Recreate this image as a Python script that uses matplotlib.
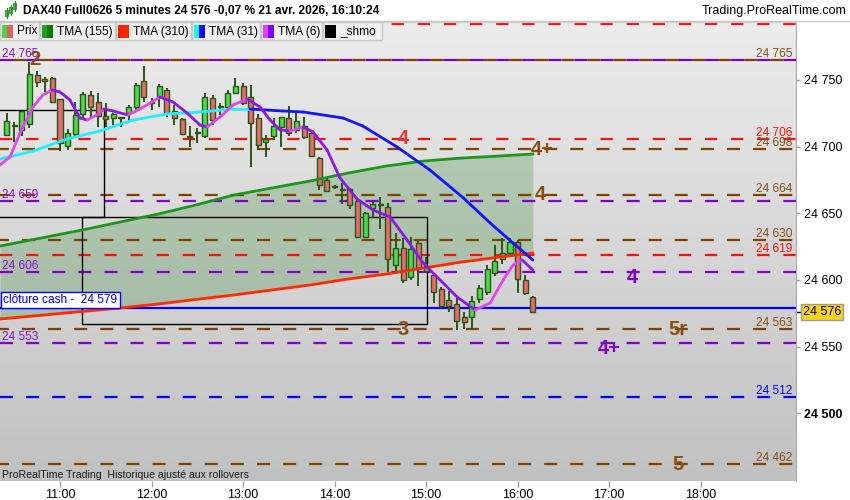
import numpy as np
import matplotlib
matplotlib.use("Agg")
import matplotlib.pyplot as plt
from matplotlib.collections import LineCollection
from matplotlib.patches import Rectangle
from matplotlib.colors import LinearSegmentedColormap
import matplotlib.transforms as mtransforms

plt.rcParams['font.family'] = ['Liberation Sans', 'DejaVu Sans']
plt.rcParams['lines.scale_dashes'] = False

# ---------------- data ----------------
# 5-minute candles from 10:25 to 16:10 (index 0 = 10:25)
opens = [24708.75, 24715.5, 24712.5, 24717, 24753.75, 24750.75, 24751.5, 24735.75, 24700.5, 24709.5,
         24724.5, 24738.75, 24733.5, 24723, 24721.5, 24721.5, 24725.25, 24729.75, 24749.25, 24733,
         24737.25, 24742.5, 24726.75, 24720.75, 24708, 24710, 24708, 24736.5, 24730.5, 24729.75,
         24740.25, 24745.5, 24737.25, 24721.5, 24703.5, 24708, 24714.75, 24721.5, 24712.5, 24715.5,
         24710.25, 24691.5, 24675, 24669.75, 24667.5, 24668.25, 24659.25, 24632.25, 24654, 24656.25,
         24654.75, 24611.25, 24624, 24602.25, 24627.75, 24606.75, 24603.75, 24593.25, 24585, 24582,
         24572.25, 24572.25, 24585.75, 24591, 24605.25, 24615.5, 24620.25, 24628.5, 24600, 24587.25]
highs = [24725.25, 24718.5, 24727, 24763.5, 24756.75, 24752.25, 24752.25, 24736, 24713.25, 24733.5,
         24741, 24741.75, 24740, 24732.75, 24725, 24722.25, 24731.25, 24747.75, 24760.5, 24736.5,
         24747, 24744, 24731, 24721.5, 24715.5, 24714, 24740, 24739, 24732.75, 24742.5,
         24751.5, 24748, 24746, 24724.5, 24708.75, 24721.5, 24722.25, 24730.5, 24725.25, 24722.25,
         24711, 24692, 24677.25, 24671.25, 24672.75, 24669, 24660, 24651, 24658.5, 24662.25,
         24657.75, 24635.25, 24631.5, 24632.25, 24629.25, 24617.25, 24604, 24594.75, 24591.75, 24587.25,
         24576, 24588, 24596.25, 24611.25, 24626.25, 24631.5, 24631.5, 24630, 24603.75, 24588]
lows = [24708, 24703.5, 24708, 24714, 24744.75, 24741, 24733, 24696.75, 24697.5, 24707.25,
        24720, 24721.5, 24714.75, 24714.75, 24716, 24714.75, 24717.75, 24727.5, 24733.5, 24727.5,
        24729.75, 24722.25, 24716.25, 24709, 24699.75, 24702.75, 24706.5, 24716, 24723.75, 24728,
        24740, 24731, 24684.75, 24697.5, 24692.25, 24705, 24699.75, 24708, 24710, 24706,
        24692, 24667.5, 24666, 24668, 24657, 24653, 24632, 24631.5, 24646.5, 24638.25,
        24606, 24606, 24598, 24600, 24595.5, 24605, 24582.75, 24579, 24576, 24562.5,
        24563.25, 24563.25, 24583, 24589, 24603, 24612, 24618, 24590.25, 24589, 24575]
closes = [24719.25, 24716, 24726.75, 24754.5, 24748.5, 24749.25, 24733.5, 24702.75, 24710.25, 24723.75,
          24739.5, 24729.75, 24723, 24720.75, 24724.5, 24722, 24729.75, 24746.25, 24737.25, 24733.5,
          24745.5, 24725.25, 24721.5, 24709.5, 24707.25, 24711, 24737.25, 24720, 24729.75, 24740.25,
          24745.5, 24732.75, 24717.75, 24701.25, 24705.75, 24715.5, 24722.25, 24710.25, 24719.25, 24707.25,
          24693, 24671.25, 24666.75, 24670, 24668.25, 24656.25, 24632.25, 24650.25, 24657, 24656.5,
          24615.75, 24624, 24600, 24623.25, 24609, 24610.5, 24591, 24580.5, 24580.5, 24569.25,
          24568.5, 24584.25, 24594, 24608.25, 24614.25, 24620.25, 24628.5, 24600.75, 24590.25, 24576]

# moving averages, read at candle-index positions
slow_idx = [-0.87, 4.9, 9.9, 14.9, 19.9, 24.8, 29.8, 34.8, 39.8, 44.8, 49.8, 54.7, 59.7, 64.7, 69]
tma155 = [24625.5, 24631.9, 24637.5, 24643.5, 24649.5, 24656.25, 24663.75, 24669, 24674.25, 24680.25,
          24685.5, 24689.25, 24691.5, 24693, 24694.5]
tma310 = [24570.75, 24573.75, 24576.4, 24579, 24582, 24585.4, 24588.75, 24592.5, 24596.25, 24600.75,
          24604.5, 24609, 24613.5, 24617.25, 24620.25]

tma31_idx = [-0.87, 3.5, 7.9, 12.2, 16.6, 21, 25.4, 29.7, 31.9, 36.2, 38.9, 44.1, 46.7, 51.2, 55.5,
             59.9, 63.4, 66.4, 69]
tma31 = [24690.75, 24696.75, 24705.75, 24711.75, 24720, 24724.5, 24726, 24728.25, 24728.25, 24726.75,
         24726, 24721.5, 24715.5, 24699.75, 24682.5, 24661.5, 24642.75, 24627.75, 24615]

tma6_idx = [-0.87, 0.45, 1.76, 3.46, 4.77, 5.95, 7.0, 8.31, 9.63, 10.54, 11.85, 12.77, 13.95, 15.92,
            17.49, 20.12, 21.82, 23.66, 25.36, 26.28, 27.99, 29.69, 31.53, 33.23, 34.54, 35.86, 37.17,
            38.87, 40.18, 42.02, 43.72, 45.95, 48.05, 50.28, 52.51, 54.61, 56.84, 59.07, 61.43, 63.4,
            65.1, 66.41, 67.59, 69]
tma6 = [24686.25, 24692.25, 24710.25, 24729.75, 24738.75, 24742.5, 24741, 24735, 24721.5, 24720,
        24723.75, 24728.25, 24726.75, 24723.75, 24728.25, 24737.25, 24733.5, 24725.25, 24716.25, 24714.75,
        24722.25, 24731.25, 24735.75, 24729.75, 24720, 24712.5, 24711.75, 24714.75, 24711, 24697.5,
        24676.5, 24660.75, 24652.5, 24647.25, 24630, 24612.75, 24600, 24587.25, 24577.5, 24582.75,
        24600, 24611.25, 24615, 24607.5]

# horizontal levels
brown_levels = [24765, 24698, 24664, 24630, 24563, 24462]
red_levels = [24792, 24706, 24619]
purple_levels = [24765, 24659, 24606, 24553]
blue_levels = [24512]
cash_close = 24579
last_price = 24576

# _shmo boxes: (start idx, end idx, low, high)
shmo_boxes = [(-3, 12.77, 24647.25, 24727.5), (9.89, 55.13, 24567, 24647.25)]

# wave labels: (text, idx, price, colour key)
wave_labels = [("2", 3.7, 24765, "brown"), ("4", 52.0, 24706, "red"), ("4+", 70.2, 24698, "brown"),
               ("4", 70.0, 24664, "brown"), ("3", 52.0, 24563, "brown"), ("4", 82.0, 24601.5, "purple"),
               ("5r", 88.0, 24563, "brown"), ("4+", 79.0, 24549, "purple"), ("5", 88.0, 24462, "brown")]

tick_pos = [7, 19, 31, 43, 55, 67, 79, 91]
tick_lbl = ["11:00", "12:00", "13:00", "14:00", "15:00", "16:00", "17:00", "18:00"]
ytick_vals = [24500, 24550, 24600, 24650, 24700, 24750]

# ---------------- style ----------------
BROWN = '#7f4200'
RED = '#ff1010'
PURPLE = '#8000c8'
BLUE = '#0000ff'
TXT = {'brown': '#8a4d12', 'red': '#e8363a', 'purple': '#8000c8'}
WICK = '#2b5516'
GREEN_BODY = '#4cd94c'
RED_BODY = '#e46c6c'

fig = plt.figure(figsize=(8.5, 5), dpi=100)
fig.patch.set_facecolor('white')
ax = fig.add_axes([0, 19 / 500, 796 / 850, 459 / 500])
X0, X1 = -0.866, 103.5
Y0, Y1 = 24449.25, 24793.5

cmap = LinearSegmentedColormap.from_list('bg', ['#ececec', '#c1c1c1'])
ax.imshow(np.linspace(0, 1, 256).reshape(-1, 1), cmap=cmap, extent=[X0, X1, Y0, Y1],
          aspect='auto', origin='upper', zorder=0, interpolation='bicubic')

# fill between slow TMAs
ax.fill_between(slow_idx, tma310, tma155, color='#3c8c3c', alpha=0.28, lw=0, zorder=1)

# dashed levels
DASH = (0, (9.4, 9.4))
for lv in brown_levels:
    if lv in purple_levels:
        ax.axhline(lv, color=BROWN, lw=1.6, linestyle=(9.4, (9.4, 9.4)), zorder=2)
    else:
        ax.axhline(lv, color=BROWN, lw=1.6, linestyle=(3, (9.4, 9.4)), zorder=2)
for lv in red_levels:
    ax.axhline(lv, color=RED, lw=1.6, linestyle=(0, (8.8, 10)), zorder=2)
for lv in purple_levels:
    ax.axhline(lv, color=PURPLE, lw=1.6, linestyle=DASH, zorder=2)
for lv in blue_levels:
    ax.axhline(lv, color=BLUE, lw=1.6, linestyle=DASH, zorder=2)
ax.axhline(cash_close, color=BLUE, lw=1.6, zorder=2.5)

# shmo boxes
for x0, x1, lo, hi in shmo_boxes:
    ax.add_patch(Rectangle((x0, lo), x1 - x0, hi - lo, fill=False, edgecolor='black', lw=1.0, zorder=2.6))

# candles
idx = np.arange(len(opens))
o = np.array(opens); c = np.array(closes); h = np.array(highs); l = np.array(lows)
ax.vlines(idx, l, h, color=WICK, lw=1.4, zorder=4)
body_h = np.maximum(np.abs(c - o), 0.8)
cols = [GREEN_BODY if cc >= oo else RED_BODY for oo, cc in zip(o, c)]
ax.bar(idx, body_h, bottom=np.minimum(o, c), width=0.66, color=cols, edgecolor=WICK,
       linewidth=1.0, zorder=4.1)

# MA lines
ax.plot(slow_idx, tma155, color='#1e961e', lw=2.0, zorder=5)
ax.plot(slow_idx, tma310, color='#ff2a00', lw=2.0, zorder=5)


def two_colour_line(xs, ys, up, down, lw=2.0):
    xs = np.asarray(xs); ys = np.asarray(ys)
    segs = np.stack([np.column_stack([xs[:-1], ys[:-1]]), np.column_stack([xs[1:], ys[1:]])], axis=1)
    colours = [up if ys[i + 1] >= ys[i] else down for i in range(len(xs) - 1)]
    lc = LineCollection(segs, colors=colours, linewidths=lw, zorder=5.2, capstyle='round', joinstyle='round')
    ax.add_collection(lc)


two_colour_line(tma31_idx, tma31, '#22eeff', '#1414ff')
two_colour_line(tma6_idx, tma6, '#e048e8', '#8c18e8')

ax.set_xlim(X0, X1)
ax.set_ylim(Y0, Y1)

# level labels
trR = mtransforms.blended_transform_factory(ax.transAxes, ax.transData)
offs = mtransforms.offset_copy(trR, fig=fig, x=0, y=3, units='dots')
right_labels = [(lv, BROWN) for lv in brown_levels] + [(lv, RED) for lv in red_levels[1:]] + \
               [(lv, BLUE) for lv in blue_levels]
for lv, col in right_labels:
    ax.text(792 / 796, lv, f"{lv:,}".replace(",", " "), color=col if col != BROWN else '#85501a',
            fontsize=8.6, ha='right', va='baseline', transform=offs, zorder=6)
for lv in purple_levels:
    ax.text(2 / 796, lv, f"{lv:,}".replace(",", " "), color='#8a10d0', fontsize=8.6,
            ha='left', va='baseline', transform=offs, zorder=6)

ax.text(3 / 796, cash_close, "clôture cash -  24 579", color=BLUE, fontsize=8.6, ha='left',
        va='bottom', transform=mtransforms.offset_copy(trR, fig=fig, x=0, y=2, units='dots'), zorder=7,
        bbox=dict(boxstyle='square,pad=0.2', facecolor='white', edgecolor=BLUE, lw=1.0))

for txt, xi, yv, ck in wave_labels:
    ax.text(xi, yv, txt, color=TXT[ck], fontsize=14.5, fontweight='bold', ha='center', va='center',
            zorder=6)

# axes styling
for s in ['left', 'bottom']:
    ax.spines[s].set_visible(False)
ax.spines['right'].set_color('#a8a8a8')
ax.spines['top'].set_color('#cfcfcf')
ax.yaxis.tick_right()
ax.set_yticks(ytick_vals)
ax.set_yticklabels([f"{v:,}".replace(",", " ") for v in ytick_vals])
for t in ax.get_yticklabels():
    if t.get_text() == "24 500":
        t.set_fontweight('bold')
ax.tick_params(axis='y', length=3, width=1, color='#a0a0a0', pad=2.5, labelsize=9)
ax.set_xticks(tick_pos)
ax.set_xticklabels(tick_lbl)
ax.tick_params(axis='x', length=4, width=1, color='#a0a0a0', pad=2, labelsize=9)

# current price tag
ax.text(1 + 7 / 796, last_price, f"{last_price:,}".replace(",", " "), transform=trR, fontsize=9,
        ha='left', va='center', zorder=8, clip_on=False,
        bbox=dict(boxstyle='square,pad=0.15', facecolor='#ffd21c', edgecolor='#9a9a9a', lw=1))
ax.plot([1, 1 + 4 / 796], [last_price, last_price], transform=trR, color='black', lw=1, clip_on=False)

# ---------------- overlay (header / legend) ----------------
ov = fig.add_axes([0, 0, 1, 1])
ov.set_xlim(0, 850)
ov.set_ylim(500, 0)
ov.axis('off')
ov.patch.set_visible(False)
ov.set_zorder(10)

ov.add_patch(Rectangle((0, 0), 850, 21, facecolor='white', edgecolor='none'))
ov.plot([0, 850], [21, 21], color='#c8c8c8', lw=1)
# icon
for xx, y0_, y1_ in [(7, 10, 16), (11, 7, 13), (15, 3, 9)]:
    ov.plot([xx, xx], [y0_ - 2, y1_ + 2], color='#2b8a2b', lw=0.8)
    ov.add_patch(Rectangle((xx - 1.5, y0_), 3, y1_ - y0_, facecolor='#4cc84c', edgecolor='#2b8a2b', lw=0.6))
ov.text(23, 11, "DAX40 Full0626 5 minutes 24 576 -0,07 % 21 avr. 2026, 16:10:24", fontsize=8.6,
        fontweight='bold', va='center', ha='left', color='black')
ov.text(846, 11, "Trading.ProRealTime.com", fontsize=9, va='center', ha='right', color='black')

legend_items = [("Prix", 0, 39, ('#4cd44c', '#e06060')),
                ("TMA (155)", 40, 115, ('#1ea01e', '#007a00')),
                ("TMA (310)", 116, 191, ('#ff2200', '#ff2200')),
                ("TMA (31)", 192, 260, ('#10ffff', '#0a0aff')),
                ("TMA (6)", 261, 322, ('#e040ff', '#8000ff')),
                ("_shmo", 323, 382, ('#000000', '#000000'))]
for name, x0, x1, (c1, c2) in legend_items:
    ov.add_patch(Rectangle((x0, 22), x1 - x0, 18, facecolor='#f0f0f0', edgecolor='#c8c8c8', lw=1))
    ov.add_patch(Rectangle((x0 + 2, 24.5), 5.5, 13, facecolor=c1, edgecolor='none'))
    ov.add_patch(Rectangle((x0 + 7.5, 24.5), 5.5, 13, facecolor=c2, edgecolor='none'))
    ov.text(x0 + 17, 31.5, name, fontsize=8.6, va='center', ha='left', color='black')

ov.text(2, 475, "ProRealTime Trading  Historique ajusté aux rollovers", fontsize=7.6, va='center',
        ha='left', color='#1a1a1a')

fig.savefig("out.png", dpi=100, facecolor='white')
